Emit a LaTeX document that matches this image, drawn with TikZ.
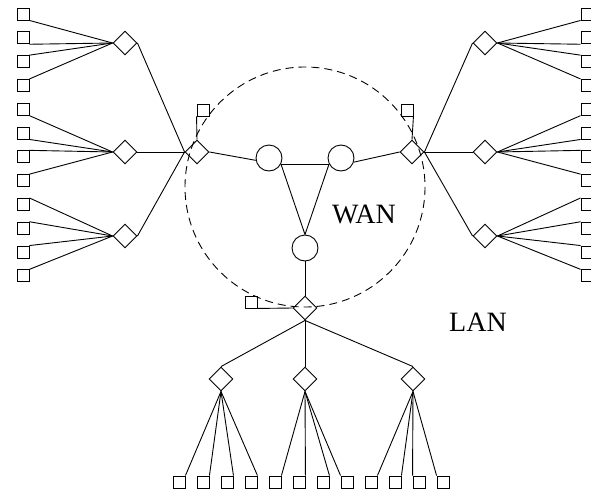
\documentclass[tikz,border=0pt]{standalone}
\usepackage{fontspec}
\setmainfont{Liberation Serif}
\usetikzlibrary{shapes.geometric}
\begin{document}
\begin{tikzpicture}[x=1pt,y=-1pt,
  sq/.style={draw, rectangle, minimum size=12pt, inner sep=0pt},
  dia/.style={draw, diamond, minimum width=24pt, minimum height=24pt, inner sep=0pt},
  rtr/.style={draw, circle, minimum size=26pt, inner sep=0pt},
  lbl/.style={font=\fontsize{28}{28}\selectfont, inner sep=0pt},
  line width=0.9pt]
\clip (0,0) rectangle (591,490);
% dashed WAN boundary
\draw[dash pattern=on 8pt off 5pt] (305,187) circle (120);
% WAN routers
\node[rtr] (c1) at (269,158) {};
\node[rtr] (c2) at (341,158) {};
\node[rtr] (c3) at (305,248) {};
% hubs
\node[dia] (hl) at (197,152) {};
\node[dia] (hr) at (412,152) {};
\node[dia] (hb) at (305,308) {};
% hub side squares
\node[sq] (sl) at (203,110) {};
\node[sq] (sr) at (407,110) {};
\node[sq] (sb) at (251,302) {};
% second level diamonds
\node[dia] (ld1) at (125,43) {};
\node[dia] (ld2) at (125,152) {};
\node[dia] (ld3) at (125,236) {};
\node[dia] (rd1) at (485,43) {};
\node[dia] (rd2) at (485,152) {};
\node[dia] (rd3) at (485,236) {};
\node[dia] (bd1) at (221,379) {};
\node[dia] (bd2) at (305,379) {};
\node[dia] (bd3) at (413,379) {};
% leaf squares
\foreach \i in {0,...,11} {
  \node[sq] (L\i) at (23,{14+23.8*\i}) {};
  \node[sq] (R\i) at (587,{14+23.8*\i}) {};
  \node[sq] (B\i) at ({179+24*\i},482) {};
}
% labels
\node[lbl] (wan) at (364,214) {WAN};
\node[lbl] (lan) at (478,322) {LAN};
% WAN links
\draw (c1.-27) -- (c2.-153);
\draw (c1.-27) -- (c3.north);
\draw (c2.-153) -- (c3.north);
\draw (hl.east) -- (c1.190);
\draw (c2.-18) -- (hr.west);
\draw (c3.south) -- (hb.north);
% hub squares
\draw (sl.south west) -- (hl.north);
\draw (sr.south east) -- (hr.north);
\draw (sb.south east) -- (hb.west);
% hubs to second level
\foreach \d in {ld1,ld2,ld3} \draw (hl.west) -- (\d.east);
\foreach \d in {rd1,rd2,rd3} \draw (hr.east) -- (\d.west);
\foreach \d in {bd1,bd2,bd3} \draw (hb.south) -- (\d.north);
% leaves
\foreach \i/\a/\d in {0/south east/ld1,1/south east/ld1,2/north east/ld1,3/north east/ld1,
  4/south east/ld2,5/south east/ld2,6/north east/ld2,7/north east/ld2,
  8/north east/ld3,9/north east/ld3,10/north east/ld3,11/north east/ld3}
  \draw (L\i.\a) -- (\d.west);
\foreach \i/\a/\d in {0/south west/rd1,1/south west/rd1,2/north west/rd1,3/north west/rd1,
  4/south west/rd2,5/south west/rd2,6/north west/rd2,7/north west/rd2,
  8/north west/rd3,9/north west/rd3,10/north west/rd3,11/north west/rd3}
  \draw (R\i.\a) -- (\d.east);
\foreach \i/\a/\d in {0/north east/bd1,1/north east/bd1,2/north east/bd1,3/north east/bd1,
  4/north east/bd2,5/north east/bd2,6/north east/bd2,7/north west/bd2,
  8/north east/bd3,9/north east/bd3,10/north west/bd3,11/north west/bd3}
  \draw (B\i.\a) -- (\d.south);
\end{tikzpicture}
\end{document}
